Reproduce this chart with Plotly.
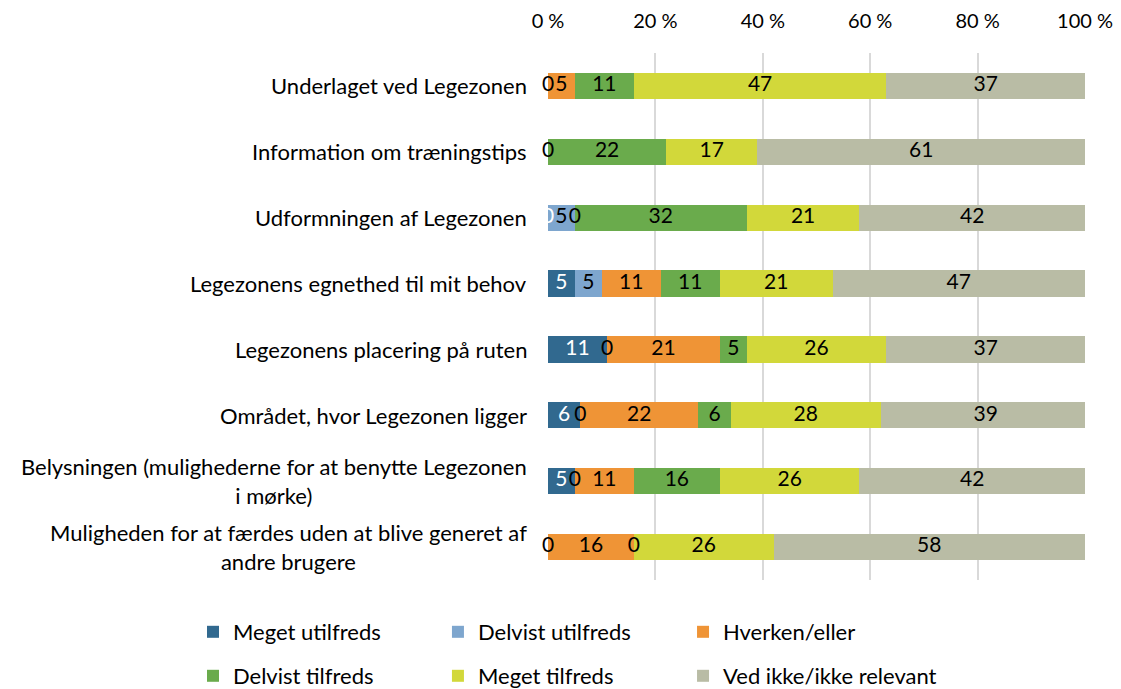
import plotly.graph_objects as go

categories = [
    "Underlaget ved Legezonen",
    "Information om træningstips",
    "Udformningen af Legezonen",
    "Legezonens egnethed til mit behov",
    "Legezonens placering på ruten",
    "Området, hvor Legezonen ligger",
    "Belysningen (mulighederne for at benytte Legezonen<br>i mørke)",
    "Muligheden for at færdes uden at blive generet af<br>andre brugere",
]

series_names = ["Meget utilfreds", "Delvist utilfreds", "Hverken/eller",
                "Delvist tilfreds", "Meget tilfreds", "Ved ikke/ikke relevant"]

meget_utilfreds = [None, None, 0, 5, 11, 6, 5, None]
delvist_utilfreds = [0, 0, 5, 5, 0, 0, 0, 0]
hverken_eller = [5, None, 0, 11, 21, 22, 11, 16]
delvist_tilfreds = [11, 22, 32, 11, 5, 6, 16, 0]
meget_tilfreds = [47, 17, 21, 21, 26, 28, 26, 26]
ved_ikke = [37, 61, 42, 47, 37, 39, 42, 58]

colors = ["#31698F", "#7EA6CE", "#EF9436", "#6AAB4C", "#D2D83A", "#B9BCA5"]
label_colors = ["white", "black", "black", "black", "black", "black"]

all_series = [meget_utilfreds, delvist_utilfreds, hverken_eller,
              delvist_tilfreds, meget_tilfreds, ved_ikke]

FONT = "Lato"
FS_CAT = 22
FS_NUM = 21
FS_TICK = 20

W, H = 1113, 681  # page body adds an 8px offset

# legend placement (one legend per entry: 3 columns x 2 rows)
legend_x = [0.1662, 0.3863, 0.6065]
legend_y = [0.0837, 0.0191]

fig = go.Figure()

layout_legends = {}
for i, (name, vals) in enumerate(zip(series_names, all_series)):
    lname = "legend" if i == 0 else f"legend{i + 1}"
    fig.add_trace(go.Bar(
        y=categories, x=[v if v is not None else 0 for v in vals],
        orientation="h", name=name, marker=dict(color=colors[i], line=dict(width=0)),
        legend=lname, hoverinfo="skip",
    ))
    layout_legends[lname] = dict(
        orientation="h", xref="container", yref="container",
        x=legend_x[i % 3], y=legend_y[i // 3], xanchor="left", yanchor="middle",
        font=dict(family=FONT, size=FS_CAT, color="black"),
        bgcolor="rgba(0,0,0,0)",
    )

# data labels
cum = [0] * len(categories)
for i, vals in enumerate(all_series):
    xs, ys, ts = [], [], []
    for j, v in enumerate(vals):
        if v is None:
            continue
        xs.append(cum[j] + v / 2)
        ys.append(categories[j])
        ts.append(str(v))
        cum[j] += v
    fig.add_trace(go.Scatter(
        x=xs, y=ys, text=ts, mode="text", showlegend=False,
        textfont=dict(family=FONT, size=FS_NUM, color=label_colors[i]),
        cliponaxis=False, hoverinfo="skip",
    ))

for c in categories:
    fig.add_annotation(
        x=0, xref="paper", xshift=-19, y=c, yref="y",
        text=c, showarrow=False, xanchor="right", align="center",
        font=dict(family=FONT, size=FS_CAT, color="black"),
    )

fig.update_layout(
    width=W, height=H,
    margin=dict(l=540, r=36, t=45, b=109, autoexpand=False),
    barmode="stack", bargap=0.6,
    plot_bgcolor="white", paper_bgcolor="white",
    font=dict(family=FONT, size=FS_CAT, color="black"),
    xaxis=dict(
        range=[0, 100], side="top", dtick=20, ticksuffix=" %",
        showgrid=True, gridcolor="#D9D9D9", gridwidth=2, zeroline=False,
        ticks="outside", ticklen=16, tickcolor="rgba(0,0,0,0)",
        tickfont=dict(family=FONT, size=FS_TICK, color="black"),
        fixedrange=True, automargin=False,
    ),
    yaxis=dict(
        categoryorder="array", categoryarray=categories, autorange="reversed",
        showticklabels=False, showgrid=False, zeroline=False, automargin=False,
    ),
    **layout_legends,
)

fig.write_html("out.html")
